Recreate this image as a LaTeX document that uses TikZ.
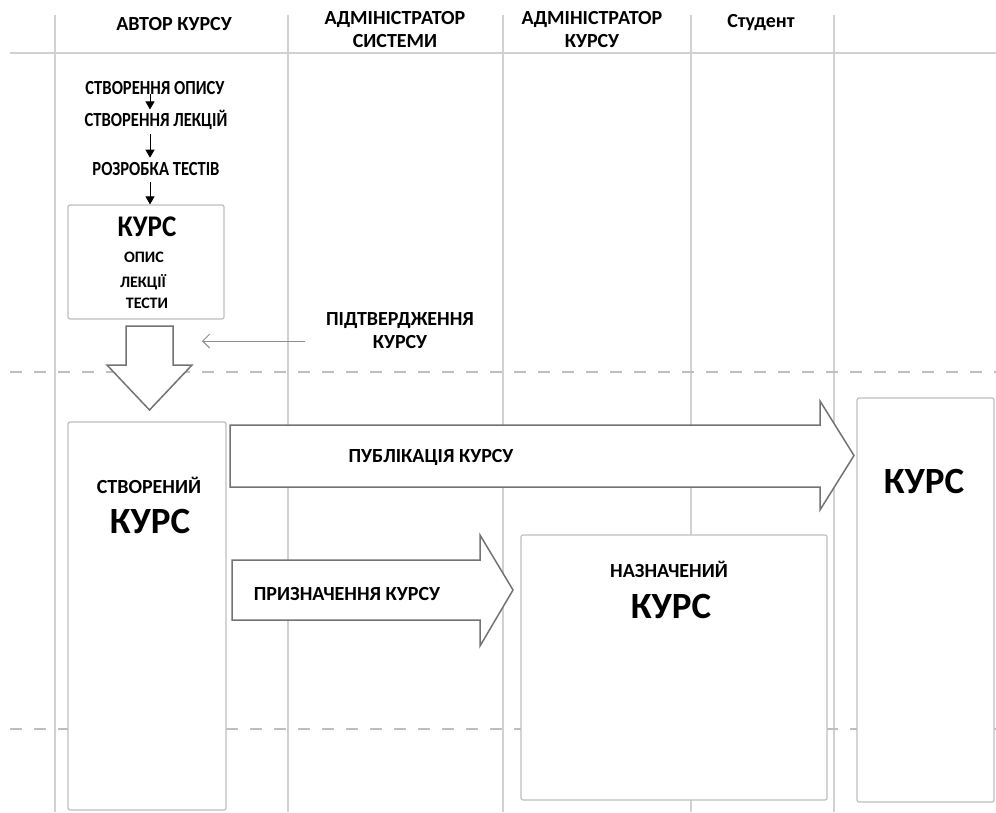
\documentclass[tikz,border=0pt]{standalone}
\usepackage{fontspec}
\setmainfont{Carlito}
\usetikzlibrary{arrows.meta}

\newcommand{\condensed}[1]{\scalebox{0.83}[1]{#1}}

\begin{document}
\begin{tikzpicture}[
    x=1pt, y=-1pt,
    lane/.style={draw=black!18, line width=1.5pt},
    border/.style={draw=black!25, line width=1.5pt, dash pattern=on 12pt off 12pt},
    header/.style={font=\fontsize{20}{23}\selectfont\bfseries, align=center, inner sep=0pt},
    stepnode/.style={font=\fontsize{20}{23}\selectfont\bfseries, inner sep=0pt, anchor=base},
    txt/.style={font=\fontsize{20}{23}\selectfont\bfseries, inner sep=0pt, anchor=base},
    bigtxt/.style={font=\fontsize{37}{40}\selectfont\bfseries, inner sep=0pt, anchor=base},
    box/.style={rectangle, draw=black!25, line width=1.2pt, fill=white, rounded corners=2pt, inner sep=0pt},
    bigarrow/.style={draw=black!55, line width=1.5pt, fill=white, line join=miter},
    arrow/.style={-{Triangle[length=8pt,width=9pt]}, line width=0.9pt},
    thinarrow/.style={-{Straight Barb[length=7pt,width=14pt]}, draw=black!45, line width=1pt}
]

% Canvas
\fill[white] (0,0) rectangle (996,812);
\useasboundingbox (0,0) rectangle (996,812);

% Swimlanes
\foreach \lx in {55,288,503,691,834}
    \draw[lane] (\lx,15) -- (\lx,812);
\draw[lane] (10,53) -- (996,53);

% Stage borders
\foreach \ly in {372,729}
    \draw[border] (10,\ly) -- (996,\ly);

% Lane headers
\node[txt] (h_author) at (174,30) {АВТОР КУРСУ};
\node[header, anchor=north] (h_sysadmin) at (395,11) {АДМІНІСТРАТОР\\СИСТЕМИ};
\node[header, anchor=north] (h_courseadmin) at (592,11) {АДМІНІСТРАТОР\\КУРСУ};
\node[txt] (h_student) at (761,27) {Студент};

% Author steps
\node[stepnode] (step_desc) at (155,94) {\condensed{СТВОРЕННЯ ОПИСУ}};
\node[stepnode] (step_lect) at (156,126) {\condensed{СТВОРЕННЯ ЛЕКЦІЙ}};
\node[stepnode] (step_test) at (156,175) {\condensed{РОЗРОБКА ТЕСТІВ}};

% Draft course
\node[box, minimum width=156pt, minimum height=114pt] (draft) at (146,262) {};
\node[txt, font=\fontsize{30}{32}\selectfont\bfseries] (draft_title) at (147,236) {\scalebox{0.9}[1]{КУРС}};
\node[txt, font=\fontsize{16}{18}\selectfont\bfseries] (draft_desc) at (144,262) {ОПИС};
\node[txt, font=\fontsize{16}{18}\selectfont\bfseries] (draft_lect) at (143,287) {ЛЕКЦІЇ};
\node[txt, font=\fontsize{16}{18}\selectfont\bfseries] (draft_test) at (147,308) {ТЕСТИ};

% Approval
\draw[bigarrow] (126,326) -- (173,326) -- (173,365) -- (192,365) -- (149.5,410) -- (107,365) -- (126,365) -- cycle;
\node[header, anchor=north] (confirm) at (400,312) {ПІДТВЕРДЖЕННЯ\\КУРСУ};
\coordinate (confirm_from) at (305,341);
\coordinate (confirm_to) at (202,341);

% Created course
\node[box, minimum width=158pt, minimum height=388pt] (created) at (147,616) {};
\node[txt] (created_title) at (149,493) {СТВОРЕНИЙ};
\node[bigtxt] (created_kurs) at (150,533) {КУРС};

% Publication
\draw[bigarrow] (230,425) -- (820,425) -- (820,401) -- (854,455.5) -- (820,510) -- (820,487) -- (230,487) -- cycle;
\node[txt] (publish) at (431,462) {ПУБЛІКАЦІЯ КУРСУ};

% Assignment
\draw[bigarrow] (232,560) -- (480,560) -- (480,535) -- (513,590) -- (480,646) -- (480,620) -- (232,620) -- cycle;
\node[txt] (assign) at (347,600) {ПРИЗНАЧЕННЯ КУРСУ};

% Assigned course
\node[box, minimum width=306pt, minimum height=265pt] (assigned) at (674,667.5) {};
\node[txt] (assigned_title) at (669,577) {НАЗНАЧЕНИЙ};
\node[bigtxt] (assigned_kurs) at (671,618) {КУРС};

% Published course
\node[box, minimum width=137pt, minimum height=404pt] (published) at (925.5,600) {};
\node[bigtxt] (published_kurs) at (924,493) {КУРС};

% Arrows
\draw[arrow] ([xshift=-5pt]step_desc.south) -- ([xshift=-6pt]step_lect.north);
\draw[arrow, shorten <=5pt, shorten >=4pt] ([xshift=-6pt]step_lect.south) -- ([xshift=-6pt]step_test.north);
\draw[arrow, shorten <=7pt] ([xshift=-6pt]step_test.south) -- ([xshift=-6pt]step_test.south |- draft.north);
\draw[thinarrow] (confirm_from) -- (confirm_to);

\end{tikzpicture}
\end{document}
